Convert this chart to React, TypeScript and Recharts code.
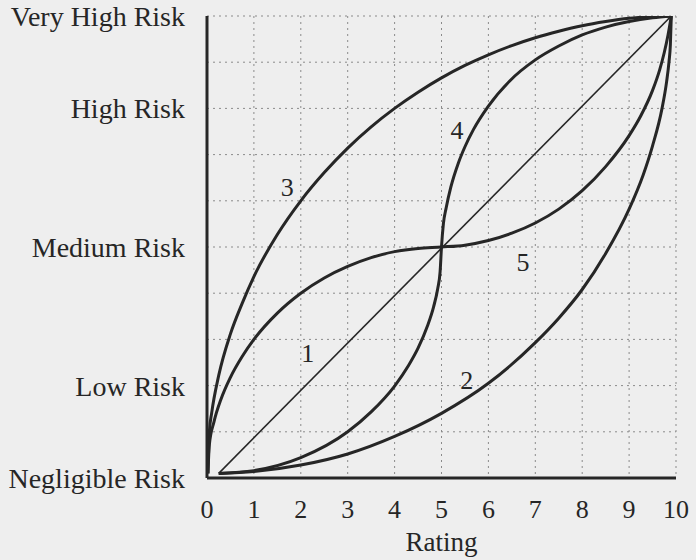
import React from 'react';
import { LineChart, Line, XAxis, YAxis, CartesianGrid, ReferenceDot } from 'recharts';

const xTicks = [0, 1, 2, 3, 4, 5, 6, 7, 8, 9, 10];
const yTickValues = [0, 2, 5, 8, 10];
const yTickLabels = ['Negligible Risk', 'Low Risk', 'Medium Risk', 'High Risk', 'Very High Risk'];
const gridValues = [1, 2, 3, 4, 5, 6, 7, 8, 9, 10];

const diagonal = [
  { x: 0.25, y: 0.1 },
  { x: 9.9, y: 10 },
];

const curve3 = [
  { x: 0.02, y: 0.1 },
  { x: 0.05, y: 1.0 },
  { x: 0.1, y: 1.41 },
  { x: 0.25, y: 2.22 },
  { x: 0.5, y: 3.12 },
  { x: 0.75, y: 3.78 },
  { x: 1, y: 4.36 },
  { x: 1.5, y: 5.27 },
  { x: 2, y: 6.0 },
  { x: 2.5, y: 6.61 },
  { x: 3, y: 7.14 },
  { x: 3.5, y: 7.6 },
  { x: 4, y: 8.0 },
  { x: 4.5, y: 8.35 },
  { x: 5, y: 8.66 },
  { x: 5.5, y: 8.93 },
  { x: 6, y: 9.16 },
  { x: 6.5, y: 9.36 },
  { x: 7, y: 9.53 },
  { x: 7.5, y: 9.67 },
  { x: 8, y: 9.79 },
  { x: 8.5, y: 9.88 },
  { x: 9, y: 9.95 },
  { x: 9.9, y: 10 },
];

const curve2 = [
  { x: 0.25, y: 0.1 },
  { x: 1, y: 0.14 },
  { x: 2, y: 0.28 },
  { x: 3, y: 0.52 },
  { x: 4, y: 0.9 },
  { x: 5, y: 1.4 },
  { x: 6, y: 2.05 },
  { x: 7, y: 2.93 },
  { x: 7.5, y: 3.46 },
  { x: 8, y: 4.08 },
  { x: 8.5, y: 4.86 },
  { x: 9, y: 5.82 },
  { x: 9.3, y: 6.56 },
  { x: 9.5, y: 7.19 },
  { x: 9.7, y: 7.99 },
  { x: 9.8, y: 8.58 },
  { x: 9.85, y: 9.0 },
  { x: 9.88, y: 9.38 },
  { x: 9.9, y: 10 },
];

// flat through the midpoint (upper lobe of the first half + curve 5)
const curveFlatS = [
  { x: 0.02, y: 0.1 },
  { x: 0.05, y: 0.72 },
  { x: 0.15, y: 1.22 },
  { x: 0.3, y: 1.71 },
  { x: 0.5, y: 2.18 },
  { x: 0.75, y: 2.63 },
  { x: 1, y: 3.0 },
  { x: 1.5, y: 3.57 },
  { x: 2, y: 4.0 },
  { x: 2.5, y: 4.33 },
  { x: 3, y: 4.58 },
  { x: 3.5, y: 4.77 },
  { x: 4, y: 4.9 },
  { x: 4.5, y: 4.97 },
  { x: 5, y: 5.0 },
  { x: 5.5, y: 5.04 },
  { x: 6, y: 5.14 },
  { x: 6.5, y: 5.3 },
  { x: 7, y: 5.52 },
  { x: 7.5, y: 5.82 },
  { x: 8, y: 6.22 },
  { x: 8.5, y: 6.74 },
  { x: 9, y: 7.41 },
  { x: 9.25, y: 7.84 },
  { x: 9.5, y: 8.39 },
  { x: 9.65, y: 8.83 },
  { x: 9.75, y: 9.21 },
  { x: 9.83, y: 9.59 },
  { x: 9.9, y: 10 },
];

// steep through the midpoint (lower lobe of the first half + curve 4)
const curveSteepS = [
  { x: 0.25, y: 0.1 },
  { x: 1, y: 0.16 },
  { x: 2, y: 0.44 },
  { x: 3, y: 1.0 },
  { x: 3.5, y: 1.43 },
  { x: 4, y: 1.99 },
  { x: 4.3, y: 2.44 },
  { x: 4.5, y: 2.81 },
  { x: 4.7, y: 3.29 },
  { x: 4.83, y: 3.7 },
  { x: 4.92, y: 4.1 },
  { x: 4.97, y: 4.46 },
  { x: 5, y: 5.0 },
  { x: 5.04, y: 5.5 },
  { x: 5.1, y: 5.85 },
  { x: 5.2, y: 6.3 },
  { x: 5.36, y: 6.82 },
  { x: 5.5, y: 7.17 },
  { x: 5.68, y: 7.54 },
  { x: 6, y: 8.05 },
  { x: 6.46, y: 8.6 },
  { x: 7, y: 9.05 },
  { x: 7.5, y: 9.35 },
  { x: 8, y: 9.59 },
  { x: 8.5, y: 9.76 },
  { x: 9, y: 9.88 },
  { x: 9.5, y: 9.96 },
  { x: 9.9, y: 10 },
];

const curveLabels = [
  { text: '3', x: 1.71, y: 6.3 },
  { text: '4', x: 5.33, y: 7.53 },
  { text: '1', x: 2.15, y: 2.71 },
  { text: '2', x: 5.54, y: 2.12 },
  { text: '5', x: 6.74, y: 4.68 },
];

const INK = '#262626';
const FONT = '"Liberation Serif", "Times New Roman", serif';

const yFormatter = (v: number) => {
  const i = yTickValues.indexOf(v);
  return i >= 0 ? yTickLabels[i] : '';
};

export default function App() {
  return (
    <div
      style={{
        position: 'absolute',
        left: 0,
        top: 0,
        width: 696,
        height: 560,
        background: '#eeeeee',
        fontFamily: FONT,
      }}
    >
      <LineChart
        width={696}
        height={560}
        margin={{ top: 16, right: 20, left: 0, bottom: 0 }}
        style={{ fontFamily: FONT }}
      >
        <CartesianGrid
          horizontalValues={gridValues}
          verticalValues={gridValues}
          stroke="#8a8a8a"
          strokeDasharray="2 4"
          strokeWidth={1}
        />
        <XAxis
          type="number"
          dataKey="x"
          domain={[0, 10]}
          ticks={xTicks}
          interval={0}
          allowDataOverflow
          tickLine={false}
          tickSize={0}
          tickMargin={22}
          height={82}
          axisLine={{ stroke: INK, strokeWidth: 3 }}
          tick={{ fontSize: 26, fill: INK, fontFamily: FONT }}
          label={{ value: 'Rating', position: 'insideBottom', offset: 9, fontSize: 27, fill: INK, fontFamily: FONT }}
        />
        <YAxis
          type="number"
          dataKey="y"
          domain={[0, 10]}
          ticks={yTickValues}
          interval={0}
          allowDataOverflow
          width={207}
          tickLine={false}
          tickSize={0}
          tickMargin={22}
          axisLine={{ stroke: INK, strokeWidth: 3 }}
          tick={{ fontSize: 28, fill: INK, fontFamily: FONT }}
          tickFormatter={yFormatter}
        />
        <Line data={diagonal} dataKey="y" type="linear" stroke={INK} strokeWidth={1.6} dot={false} isAnimationActive={false} />
        <Line data={curve3} dataKey="y" type="monotone" stroke={INK} strokeWidth={3} dot={false} isAnimationActive={false} />
        <Line data={curve2} dataKey="y" type="monotone" stroke={INK} strokeWidth={3} dot={false} isAnimationActive={false} />
        <Line data={curveFlatS} dataKey="y" type="monotone" stroke={INK} strokeWidth={3} dot={false} isAnimationActive={false} />
        <Line data={curveSteepS} dataKey="y" type="monotone" stroke={INK} strokeWidth={3} dot={false} isAnimationActive={false} />
        {curveLabels.map((l) => (
          <ReferenceDot
            key={l.text}
            x={l.x}
            y={l.y}
            r={0}
            fill="none"
            stroke="none"
            ifOverflow="visible"
            label={{ value: l.text, position: 'center', fontSize: 26, fill: INK, fontFamily: FONT }}
          />
        ))}
      </LineChart>
    </div>
  );
}
